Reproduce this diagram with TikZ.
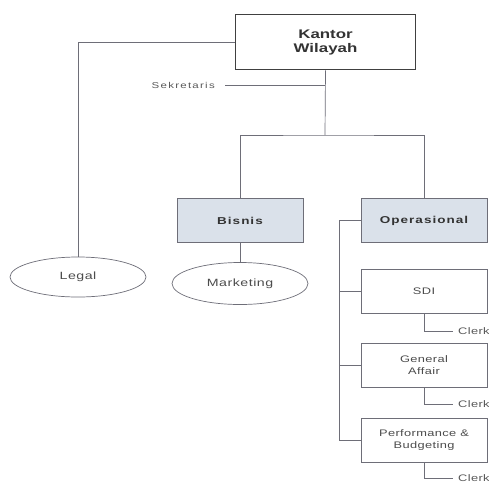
\documentclass[tikz,border=0pt]{standalone}
\usepackage{fontspec}
\setmainfont{Liberation Sans}[FakeStretch=1.35]
\usetikzlibrary{shapes.geometric}
\definecolor{ln}{RGB}{110,110,120}
\definecolor{hl}{RGB}{218,225,234}
\newcommand{\trk}[1]{\addfontfeatures{LetterSpace=#1}}
\begin{document}
\begin{tikzpicture}[x=1pt,y=-1pt,
  conn/.style={draw=ln,line width=0.7pt},
  unit/.style={draw=ln,line width=0.7pt,minimum width=126pt,minimum height=44pt,align=center,font=\fontsize{9.5}{11.5}\selectfont\trk{4},text=black!70},
  div/.style={unit,fill=hl,font=\bfseries\fontsize{10}{12}\selectfont\trk{10},text=black!80},
  oval/.style={ellipse,draw=ln,line width=0.7pt,minimum width=136pt,minimum height=40pt,font=\fontsize{10.5}{12}\selectfont\trk{5},text=black!70},
  clerk/.style={anchor=west,inner sep=0pt,font=\fontsize{9.5}{11}\selectfont\trk{4},text=black!65}]
\useasboundingbox (0,0) rectangle (489,482);
\clip (0,0) rectangle (489,482);
\fill[white] (0,0) rectangle (489,482);
\node[draw=black!75,line width=1.6pt,minimum width=180pt,minimum height=55pt,align=center,font=\bfseries\fontsize{12.5}{14}\selectfont,text=black!80] (kw) at (325.5,42) {Kantor\\Wilayah};
\node[anchor=east,inner sep=0pt,font=\fontsize{8.5}{10}\selectfont\trk{15},text=black!65] (sek) at (215,85) {Sekretaris};
\coordinate (sj) at (325,85);
\coordinate (bj) at (325,135);
\node[div] (bis) at (240,220.5) {Bisnis};
\node[div] (ops) at (424,220.5) {Operasional};
\node[oval] (leg) at (78,277) {Legal};
\node[oval,minimum height=42pt] (mkt) at (240,283.5) {Marketing};
\node[unit] (sdi) at (424,291.5) {SDI};
\node[unit] (ga) at (424,365) {General\\Affair};
\node[unit] (pb) at (424,440) {Performance \&\\Budgeting};
\node[clerk] (c1) at (458,331) {Clerk};
\node[clerk] (c2) at (458,404) {Clerk};
\node[clerk] (c3) at (458,478) {Clerk};
% connectors
\draw[conn] (kw.west) -- (kw.west -| leg.north) -- (leg.north);
\draw[conn] (kw.south) -- (bj);
\draw[conn] (sek.east) ++(10,0) -- (sj);
\draw[conn] (bis.north) |- (bj) -| (ops.north);
\draw[conn] (bis.south) -- (mkt.north);
\coordinate (sp) at (339,220.5);
\draw[conn] (ops.west) -- (sp) -- (sp |- pb.west) -- (pb.west);
\draw[conn] (sp |- sdi.west) -- (sdi.west);
\draw[conn] (sp |- ga.west) -- (ga.west);
\draw[conn] (sdi.south) |- ([xshift=-5pt]c1.west);
\draw[conn] (ga.south) |- ([xshift=-5pt]c2.west);
\draw[conn] (pb.south) |- ([xshift=-5pt]c3.west);
\end{tikzpicture}
\end{document}
